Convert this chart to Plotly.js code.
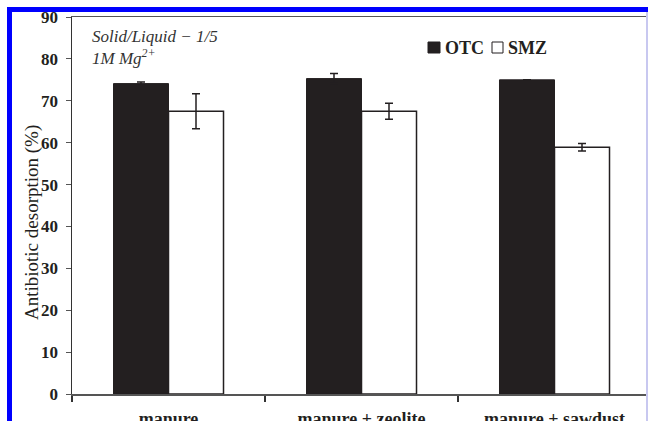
<!DOCTYPE html>
<html>
<head>
<meta charset="utf-8">
<script src="https://cdn.plot.ly/plotly-3.0.1.min.js"></script>
<style>html,body{margin:0;padding:0;background:#fff;overflow:hidden;}</style>
</head>
<body>
<div id="chart" style="width:648px;height:421px;"></div>
<script>
const categories = ["manure", "manure + zeolite", "manure + sawdust"];
const otcValues = [74.1, 75.3, 75.0];
const otcErrors = [0.4, 1.2, 0];
const smzValues = [67.5, 67.5, 58.9];
const smzErrors = [4.2, 1.9, 0.9];
const yTicks = [0, 10, 20, 30, 40, 50, 60, 70, 80, 90];

const W = 648, H = 421;
const L = 72, R = 648, T = 17, B = 394;
const px = x => (x - L) / (R - L);
const py = y => (B - y) / (B - T);
const serif = "Liberation Serif, Times New Roman, serif";
const ink = "#231f20";

const traces = [
  {
    type: "bar", name: "OTC", x: categories, y: otcValues,
    marker: {color: ink, line: {color: ink, width: 1}},
    error_y: {type: "data", array: otcErrors, visible: true, color: ink, thickness: 1.5, width: 4}
  },
  {
    type: "bar", name: "SMZ", x: categories, y: smzValues,
    marker: {color: "#ffffff", line: {color: ink, width: 1.5}},
    error_y: {type: "data", array: smzErrors, visible: true, color: ink, thickness: 1.5, width: 4}
  }
];

const layout = {
  width: W, height: H,
  margin: {l: L, r: W - R, t: T, b: H - B, pad: 0},
  paper_bgcolor: "#ffffff", plot_bgcolor: "#ffffff",
  showlegend: false,
  barmode: "group", bargap: 0.43, bargroupgap: 0,
  xaxis: {
    type: "category", range: [-0.5, -0.5 + (R - L) / 193],
    showline: true, linecolor: "#555", linewidth: 1.5, mirror: true,
    ticks: "outside", tickson: "boundaries", ticklen: 6, tickwidth: 1.5, tickcolor: "#333",
    ticklabelstandoff: 8,
    tickfont: {family: serif, size: 18, color: ink, weight: "bold"},
    showgrid: false, zeroline: false, fixedrange: true
  },
  yaxis: {
    range: [0, 90], tickvals: yTicks, ticktext: yTicks.map(String),
    showline: true, linecolor: "#333", linewidth: 1.5,
    ticks: "outside", ticklen: 5, tickwidth: 1, tickcolor: "#555",
    ticklabelstandoff: 4,
    tickfont: {family: serif, size: 17, color: ink, weight: "bold"},
    showgrid: false, zeroline: false, fixedrange: true
  },
  shapes: [
    {type: "rect", xref: "paper", yref: "paper", x0: px(7), x1: px(648), y0: py(12), y1: py(7), fillcolor: "#0000ff", line: {width: 0}, layer: "above"},
    {type: "rect", xref: "paper", yref: "paper", x0: px(7), x1: px(12), y0: py(421), y1: py(7), fillcolor: "#0000ff", line: {width: 0}, layer: "above"},
    {type: "rect", xref: "paper", yref: "paper", x0: px(646), x1: px(648), y0: py(421), y1: py(12), fillcolor: "#c8c8f0", line: {width: 0}, layer: "above"},
    {type: "rect", xref: "paper", yref: "paper", x0: px(428), x1: px(440), y0: py(53), y1: py(42), fillcolor: ink, line: {color: ink, width: 1}},
    {type: "rect", xref: "paper", yref: "paper", x0: px(492), x1: px(503), y0: py(53), y1: py(42), fillcolor: "#ffffff", line: {color: ink, width: 1}}
  ],
  annotations: [
    {xref: "paper", yref: "paper", x: px(19), y: py(223), text: "Antibiotic desorption (%)", textangle: -90, showarrow: false,
     font: {family: serif, size: 19, color: ink}},
    {xref: "paper", yref: "paper", x: px(90), y: py(47), xanchor: "left", yanchor: "middle", align: "left",
     text: "<i>Solid/Liquid − 1/5</i><br><i>1M Mg<sup>2+</sup></i>", showarrow: false,
     font: {family: serif, size: 17, color: "#333"}},
    {xref: "paper", yref: "paper", x: px(443), y: py(48), xanchor: "left", yanchor: "middle", text: "<b>OTC</b>", showarrow: false,
     font: {family: serif, size: 18, color: ink}},
    {xref: "paper", yref: "paper", x: px(506), y: py(48), xanchor: "left", yanchor: "middle", text: "<b>SMZ</b>", showarrow: false,
     font: {family: serif, size: 18, color: ink}}
  ]
};

Plotly.newPlot("chart", traces, layout, {displayModeBar: false, staticPlot: true});
</script>
</body>
</html>
